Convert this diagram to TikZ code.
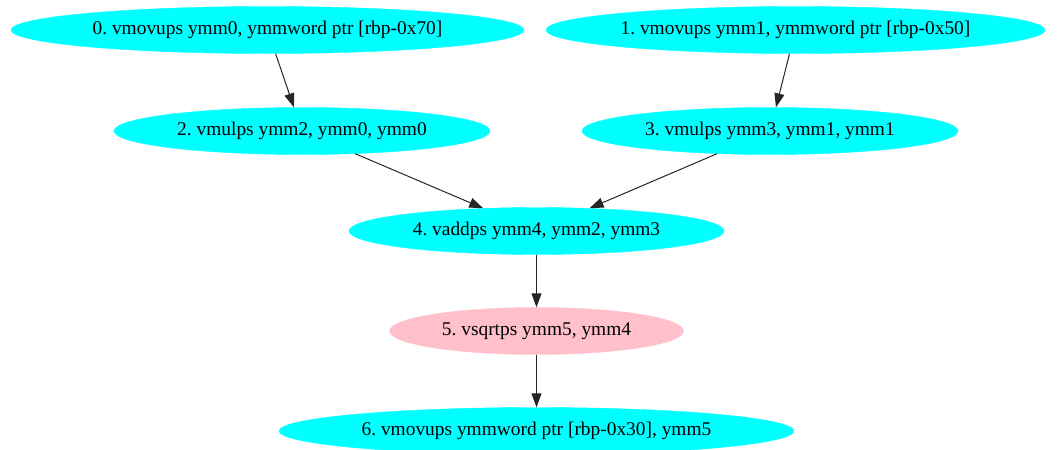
\documentclass[tikz,border=0pt]{standalone}
\usepackage{fontspec}
\setmainfont{Liberation Serif}
\frenchspacing
\usetikzlibrary{shapes.geometric,arrows.meta}
\definecolor{nodecyan}{HTML}{00FFFF}
\definecolor{nodepink}{HTML}{FFC0CB}
\tikzset{
  instr/.style={ellipse, fill=nodecyan, draw=nodecyan, inner sep=0pt, minimum height=47pt, font=\fontsize{19.4pt}{23pt}\selectfont},
  pinkinstr/.style={instr, fill=nodepink, draw=nodepink},
  edge/.style={draw=black!85, line width=1pt, -{Triangle[length=14pt,width=10pt]}}
}
\begin{document}
\begin{tikzpicture}[x=1pt,y=-1pt]
\useasboundingbox (0,0) rectangle (1061,450);
\node[instr, minimum width=513pt] (n0) at (267.5,30) {0. vmovups ymm0, ymmword ptr [rbp-0x70]};
\node[instr, minimum width=499pt] (n1) at (795.5,30) {1. vmovups ymm1, ymmword ptr [rbp-0x50]};
\node[instr, minimum width=376pt] (n2) at (302,131) {2. vmulps ymm2, ymm0, ymm0};
\node[instr, minimum width=376pt] (n3) at (770,131) {3. vmulps ymm3, ymm1, ymm1};
\node[instr, minimum width=375pt] (n4) at (536.5,231) {4. vaddps ymm4, ymm2, ymm3};
\node[pinkinstr, minimum width=294pt] (n5) at (536.5,331) {5. vsqrtps ymm5, ymm4};
\node[instr, minimum width=515pt] (n6) at (536.5,431) {6. vmovups ymmword ptr [rbp-0x30], ymm5};
\draw[edge] (n0) -- (n2);
\draw[edge] (n1) -- (n3);
\draw[edge] (n2) -- (n4);
\draw[edge] (n3) -- (n4);
\draw[edge] (n4) -- (n5);
\draw[edge] (n5) -- (n6);
\end{tikzpicture}
\end{document}
